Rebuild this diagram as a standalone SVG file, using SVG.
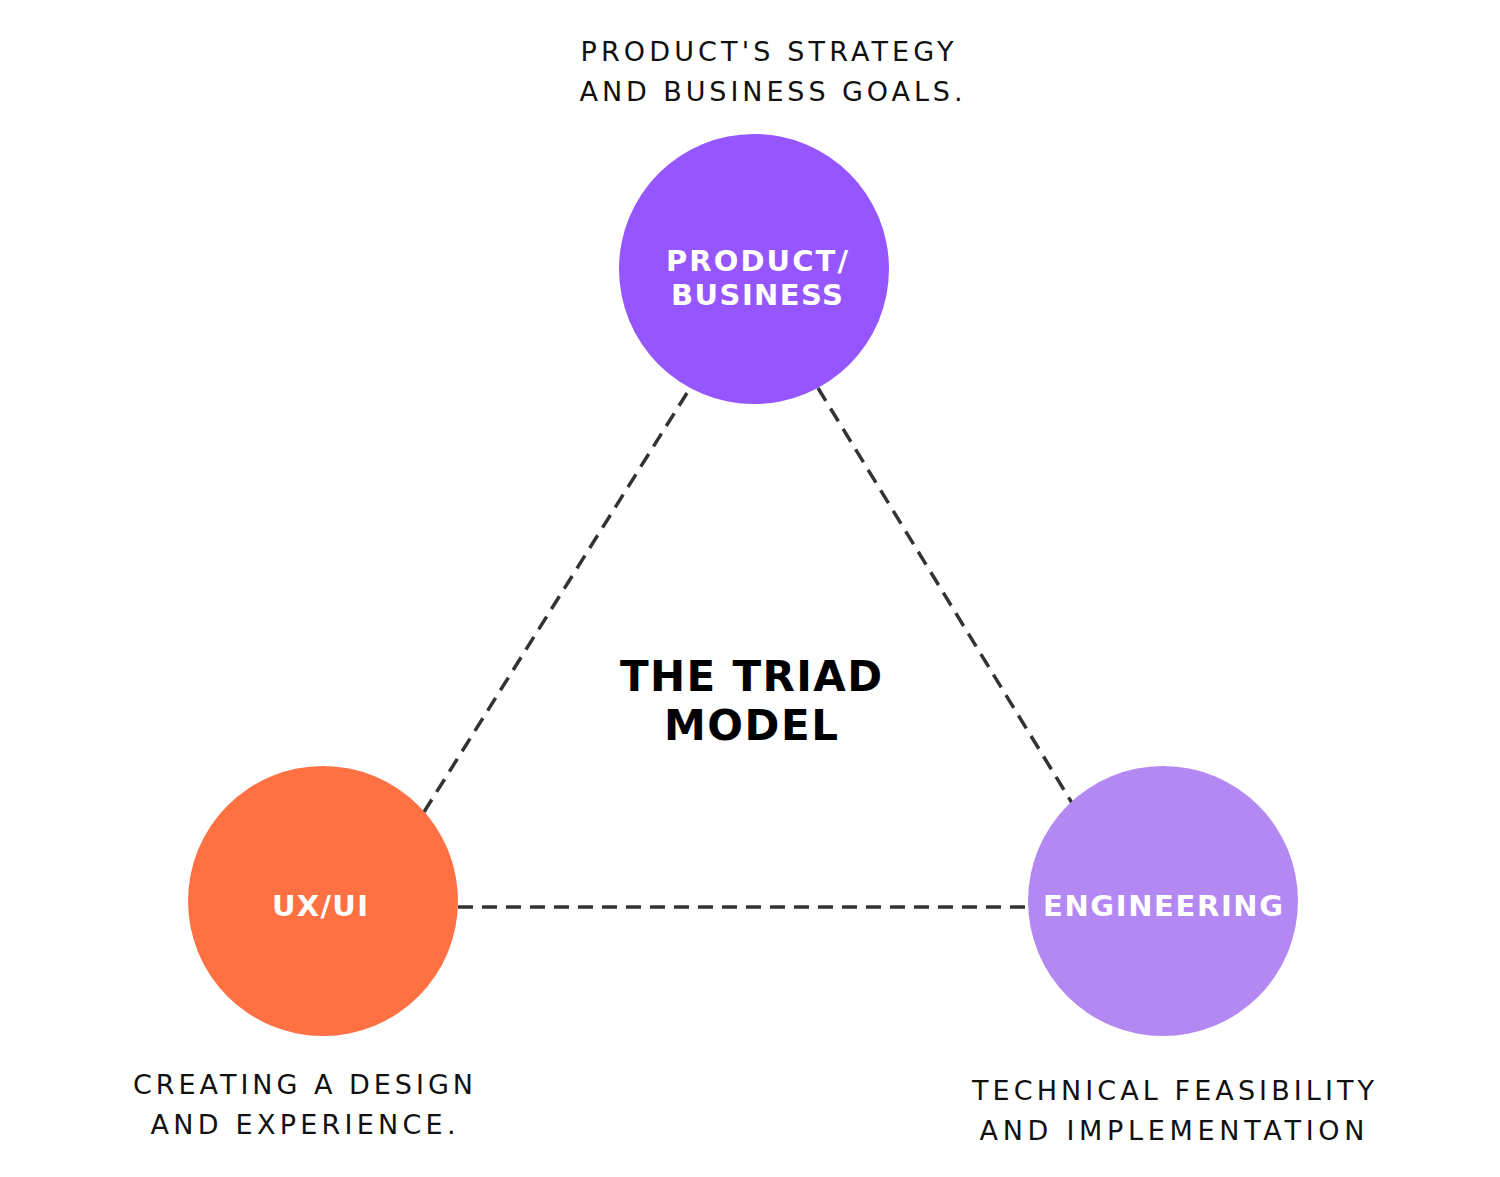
<svg xmlns="http://www.w3.org/2000/svg" width="1500" height="1177" viewBox="0 0 1500 1177">
<style>
.cap{font-family:"DejaVu Sans","Liberation Sans",Arial,sans-serif;font-size:27px;fill:#111;text-anchor:middle}
.lbl{font-family:"DejaVu Sans","Liberation Sans",Arial,sans-serif;font-size:29px;font-weight:bold;fill:#fff;text-anchor:middle}
.title{font-family:"DejaVu Sans","Liberation Sans",Arial,sans-serif;font-size:42px;font-weight:bold;fill:#000;text-anchor:middle}
.conn{stroke:#333;stroke-width:3.5;stroke-dasharray:15 9;fill:none}
</style>
<rect width="1500" height="1177" fill="#fff"/>
<g id="connectors">
<line class="conn" x1="687" y1="393" x2="424" y2="812"/>
<line class="conn" x1="818" y1="388" x2="1072" y2="803"/>
<line class="conn" x1="458" y1="907" x2="1028" y2="907"/>
</g>
<g id="product">
<circle cx="754" cy="269" r="135" fill="#9656FF"/>
<text class="lbl" x="757" y="271" textLength="182" lengthAdjust="spacing">PRODUCT/</text>
<text class="lbl" x="757" y="305" textLength="172" lengthAdjust="spacing">BUSINESS</text>
</g>
<g id="uxui">
<circle cx="323" cy="901" r="135" fill="#FF7043"/>
<text class="lbl" x="320" y="916" textLength="96" lengthAdjust="spacing">UX/UI</text>
</g>
<g id="engineering">
<circle cx="1163" cy="901" r="135" fill="#B388F2"/>
<text class="lbl" x="1163" y="916" textLength="240" lengthAdjust="spacing">ENGINEERING</text>
</g>
<g id="title">
<text class="title" x="751" y="691" textLength="262" lengthAdjust="spacing">THE TRIAD</text>
<text class="title" x="751" y="740" textLength="174" lengthAdjust="spacing">MODEL</text>
</g>
<g id="captions">
<text class="cap" x="767" y="61" textLength="373" lengthAdjust="spacing">PRODUCT'S STRATEGY</text>
<text class="cap" x="771" y="101" textLength="383" lengthAdjust="spacing">AND BUSINESS GOALS.</text>
<text class="cap" x="303" y="1094" textLength="340" lengthAdjust="spacing">CREATING A DESIGN</text>
<text class="cap" x="303" y="1134" textLength="305" lengthAdjust="spacing">AND EXPERIENCE.</text>
<text class="cap" x="1173" y="1100" textLength="402" lengthAdjust="spacing">TECHNICAL FEASIBILITY</text>
<text class="cap" x="1172" y="1140" textLength="385" lengthAdjust="spacing">AND IMPLEMENTATION</text>
</g>
</svg>
